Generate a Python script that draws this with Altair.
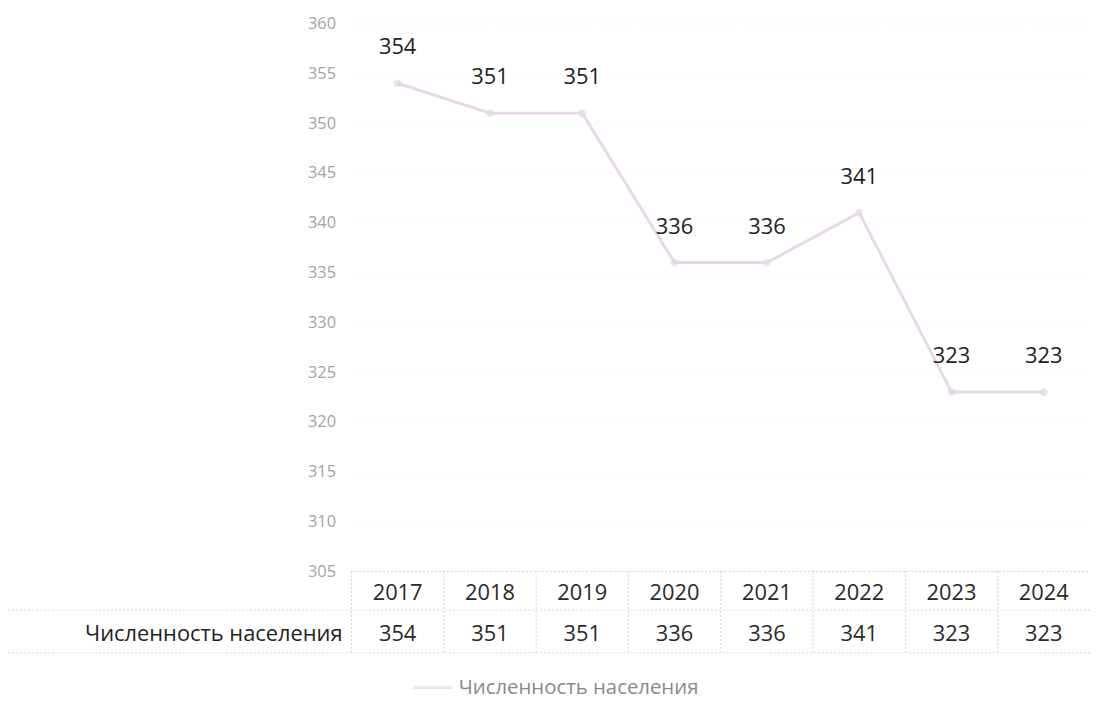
import altair as alt
import pandas as pd

years = ["2017", "2018", "2019", "2020", "2021", "2022", "2023", "2024"]
population = [354, 351, 351, 336, 336, 341, 323, 323]
row_label = "Численность населения"
y_ticks = [305, 310, 315, 320, 325, 330, 335, 340, 345, 350, 355, 360]

W, H = 744, 552
FONT = "Open Sans"
TXT = 22

df = pd.DataFrame({"year": years, "value": population})
lbl = pd.DataFrame({"label": [row_label]})

x_enc = alt.X("year:O", sort=years, scale=alt.Scale(type="point", padding=0.5), axis=None)
y_scale = alt.Scale(domain=[305, 360], nice=False, zero=False)

base = alt.Chart(df)

line = base.mark_line(color="#e8d8ea", strokeWidth=3).encode(
    x=x_enc,
    y=alt.Y("value:Q", scale=y_scale, title=None,
            axis=alt.Axis(values=y_ticks, domain=False, ticks=False, labelPadding=16,
                          labelFontSize=16.5, labelColor="#a3a3a3", labelFont=FONT,
                          grid=True, gridColor="#f6f6f6", gridDash=[2, 3])),
)
points = base.mark_point(filled=True, size=60, color="#e6d5e8").encode(x=x_enc, y="value:Q")
labels = base.mark_text(dy=-36, fontSize=TXT, font=FONT, color="#222222").encode(
    x=x_enc, y="value:Q", text="value:Q")

header = base.mark_text(fontSize=TXT, font=FONT, color="#2a2a2a", baseline="middle").encode(
    x=x_enc, y=alt.value(574), text="year:N")
values_row = base.mark_text(fontSize=TXT, font=FONT, color="#2a2a2a", baseline="middle").encode(
    x=x_enc, y=alt.value(615), text="value:Q")

vlines = base.mark_rule(xOffset=-46.5, color="#d2d2d2", strokeDash=[2, 2]).encode(
    x=x_enc, y=alt.value(H), y2=alt.value(634))

hl_top = alt.Chart(lbl).mark_rule(color="#d2d2d2", strokeDash=[2, 2]).encode(
    x=alt.value(0), x2=alt.value(W), y=alt.value(H))
hl_mid = alt.Chart(lbl).mark_rule(color="#d8d8d8", strokeDash=[2, 2]).encode(
    x=alt.value(-346), x2=alt.value(W), y=alt.value(591))
hl_bot = alt.Chart(lbl).mark_rule(color="#d8d8d8", strokeDash=[2, 2]).encode(
    x=alt.value(-346), x2=alt.value(W), y=alt.value(634))

left_label = alt.Chart(lbl).mark_text(align="right", baseline="middle", fontSize=TXT,
                                      font=FONT, color="#222222").encode(
    x=alt.value(-9), y=alt.value(615), text="label:N")

legend_sym = alt.Chart(lbl).mark_rule(color="#e6eee0", strokeWidth=3).encode(
    x=alt.value(62), x2=alt.value(102), y=alt.value(669))
legend_txt = alt.Chart(lbl).mark_text(align="left", baseline="middle", fontSize=20.5,
                                      font=FONT, color="#8a8a8a").encode(
    x=alt.value(108), y=alt.value(670), text="label:N")

chart = alt.layer(
    vlines, hl_top, hl_mid, hl_bot, line, points, labels, header, values_row,
    left_label, legend_sym, legend_txt
).properties(
    width=W, height=H,
    autosize=alt.AutoSizeParams(type="none"),
    padding={"left": 346, "top": 13, "right": 0, "bottom": 131},
).configure(background="white", view=alt.ViewConfig(stroke=None))

chart.save("out.html", embed_options={"renderer": "svg", "actions": False})
